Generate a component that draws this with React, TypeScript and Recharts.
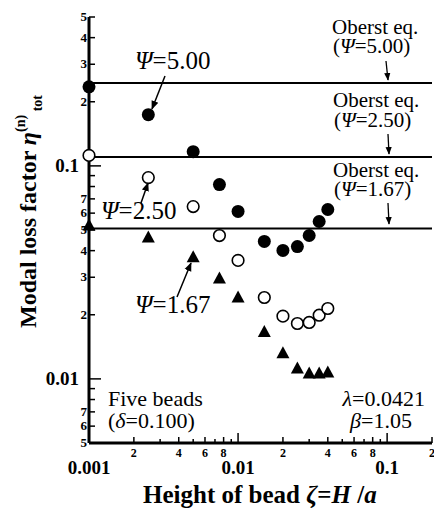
import * as React from "react"
import { ScatterChart, Scatter, XAxis, YAxis, ReferenceLine, Customized } from "recharts"

// bead height zeta = H/a
const zeta = [0.001, 0.0025, 0.005, 0.0075, 0.01, 0.015, 0.02, 0.025, 0.03, 0.035, 0.04]
// modal loss factor for the three psi values
const psi500 = [0.235, 0.174, 0.1166, 0.0817, 0.0611, 0.0442, 0.0401, 0.0418, 0.0471, 0.0548, 0.0624]
const psi250 = [0.112, 0.0881, 0.0644, 0.0471, 0.036, 0.0241, 0.0197, 0.0182, 0.0184, 0.0199, 0.0214]
const psi167 = [0.0525, 0.0461, 0.0372, 0.0296, 0.0241, 0.0166, 0.0132, 0.0112, 0.0106, 0.0106, 0.0107]
// Oberst equation levels
const oberst = [0.245, 0.11, 0.0508]

const xTicks = [
  0.001, 0.002, 0.003, 0.004, 0.005, 0.006, 0.007, 0.008, 0.009,
  0.01, 0.02, 0.03, 0.04, 0.05, 0.06, 0.07, 0.08, 0.09,
  0.1, 0.2,
]
const yTicks = [
  0.005, 0.006, 0.007, 0.008, 0.009,
  0.01, 0.02, 0.03, 0.04, 0.05, 0.06, 0.07, 0.08, 0.09,
  0.1, 0.2, 0.3, 0.4, 0.5,
]
const xMinorLabels = [2, 4, 6, 8]
const yMinorLabels = [2, 3, 4, 5, 6, 7]

const FONT = "Liberation Serif"

const toRows = (ys: number[]) => zeta.map((x, i) => ({ x, y: ys[i] }))
const data500 = toRows(psi500)
const data250 = toRows(psi250)
const data167 = toRows(psi167)

function decade(v: number) {
  const l = Math.log10(v)
  const d = Math.floor(l + 1e-9)
  const mant = Math.round(v / Math.pow(10, d))
  return { d, mant, major: mant === 1 }
}

function fmtMajor(v: number) {
  if (v >= 0.1) return "0.1"
  if (v >= 0.01) return "0.01"
  return "0.001"
}

const BottomTick = (props: any) => {
  const { x, y, payload } = props
  const { mant, major } = decade(payload.value)
  const len = major ? 10 : mant % 2 === 0 ? 6 : 4
  return (
    <g>
      <line x1={x} y1={y} x2={x} y2={y - len} stroke="#000" strokeWidth={1.5} />
      {!major && xMinorLabels.includes(mant) && (
        <text x={x} y={y + 14} textAnchor="middle" fontFamily={FONT} fontWeight="bold" fontSize={12} fill="#000">
          {mant}
        </text>
      )}
      {major && (
        <text x={x} y={y + 31} textAnchor="middle" fontFamily={FONT} fontWeight="bold" fontSize={19} fill="#000">
          {fmtMajor(payload.value)}
        </text>
      )}
    </g>
  )
}

const LeftTick = (props: any) => {
  const { x, y, payload } = props
  const { mant, major } = decade(payload.value)
  const len = major ? 12 : 6
  return (
    <g>
      <line x1={x} y1={y} x2={x + len} y2={y} stroke="#000" strokeWidth={1.5} />
      {!major && yMinorLabels.includes(mant) ? (
        <text x={x - 2} y={y + 4} textAnchor="end" fontFamily={FONT} fontWeight="bold" fontSize={13} fill="#000">
          {mant}
        </text>
      ) : null}
      {major && (
        <text x={x - 10} y={y + 6} textAnchor="end" fontFamily={FONT} fontWeight="bold" fontSize={19} fill="#000">
          {payload.value >= 0.1 ? "0.1" : "0.01"}
        </text>
      )}
    </g>
  )
}

const TopTick = (props: any) => {
  const { x, y, payload } = props
  const { major } = decade(payload.value)
  const len = major ? 8 : 4
  return <line x1={x} y1={y} x2={x} y2={y + len} stroke="#000" strokeWidth={1.5} />
}

const RightTick = (props: any) => {
  const { x, y, payload } = props
  const { major } = decade(payload.value)
  const len = major ? 8 : 5
  return <line x1={x} y1={y} x2={x - len} y2={y} stroke="#000" strokeWidth={1.5} />
}

const FilledDot = (p: any) => <circle cx={p.cx} cy={p.cy} r={6.5} fill="#000" />
const OpenDot = (p: any) => <circle cx={p.cx} cy={p.cy} r={5.8} fill="#fff" stroke="#000" strokeWidth={1.6} />
const Tri = (p: any) => (
  <polygon
    points={`${p.cx},${p.cy - 7} ${p.cx - 6.5},${p.cy + 5} ${p.cx + 6.5},${p.cy + 5}`}
    fill="#000"
  />
)

const Psi = () => <tspan fontStyle="italic">Ψ</tspan>

const Notes = () => (
  <g fontFamily={FONT} fill="#000">
    <defs>
      <marker id="ah" viewBox="0 0 10 10" refX="9" refY="5" markerWidth="6" markerHeight="6" orient="auto">
        <path d="M0,1 L10,5 L0,9 z" fill="#000" />
      </marker>
    </defs>
    {/* axis titles */}
    <text transform="translate(36,328) rotate(-90)" fontSize={24} fontWeight="bold">
      Modal loss factor <tspan fontStyle="italic">η</tspan>
      <tspan dy={-11} fontSize={14}>(n)</tspan>
      <tspan dy={17} fontSize={14}> tot</tspan>
    </text>
    <text x={143} y={503} fontSize={25} fontWeight="bold">
      Height of bead <tspan fontStyle="italic">ζ</tspan>=<tspan fontStyle="italic">H</tspan> /<tspan fontStyle="italic">a</tspan>
    </text>

    {/* Oberst labels */}
    <text x={332} y={34} fontSize={21}>Oberst eq.</text>
    <text x={333} y={53} fontSize={21}>(<Psi />=5.00)</text>
    <line x1={386} y1={61} x2={388} y2={80} stroke="#000" strokeWidth={1.3} markerEnd="url(#ah)" />
    <text x={333} y={107} fontSize={21}>Oberst eq.</text>
    <text x={334} y={127} fontSize={21}>(<Psi />=2.50)</text>
    <line x1={388} y1={134} x2={389} y2={154} stroke="#000" strokeWidth={1.3} markerEnd="url(#ah)" />
    <text x={333} y={177} fontSize={21}>Oberst eq.</text>
    <text x={334} y={196} fontSize={21}>(<Psi />=1.67)</text>
    <line x1={388} y1={203} x2={389} y2={224} stroke="#000" strokeWidth={1.3} markerEnd="url(#ah)" />

    {/* series labels */}
    <text x={135} y={69} fontSize={25}><Psi />=5.00</text>
    <line x1={165} y1={76} x2={152} y2={109} stroke="#000" strokeWidth={1.5} markerEnd="url(#ah)" />
    <text x={101} y={219} fontSize={25}><Psi />=2.50</text>
    <line x1={141} y1={203} x2={148} y2={183} stroke="#000" strokeWidth={1.5} markerEnd="url(#ah)" />
    <text x={135} y={313} fontSize={25}><Psi />=1.67</text>
    <line x1={177} y1={297} x2={191} y2={263} stroke="#000" strokeWidth={1.5} markerEnd="url(#ah)" />

    <text x={108} y={406} fontSize={22}>Five beads</text>
    <text x={108} y={428} fontSize={22}>(<tspan fontStyle="italic">δ</tspan>=0.100)</text>
    <text x={425} y={406} fontSize={22} textAnchor="end"><tspan fontStyle="italic">λ</tspan>=0.0421</text>
    <text x={412} y={428} fontSize={22} textAnchor="end"><tspan fontStyle="italic">β</tspan>=1.05</text>
  </g>
)

export default function App() {
  return (
    <div style={{ position: "absolute", left: 0, top: 0, width: 434, height: 510, background: "#fff" }}>
      <ScatterChart width={434} height={510} margin={{ top: 17, right: 2, bottom: 0, left: 0 }}>
        <XAxis
          xAxisId={0}
          dataKey="x"
          type="number"
          scale="log"
          domain={[0.001, 0.2]}
          ticks={xTicks}
          interval={0}
          height={67}
          tickSize={0}
          tickMargin={0}
          tickLine={false}
          axisLine={{ stroke: "#000", strokeWidth: 3 }}
          tick={<BottomTick />}
        />
        <XAxis
          xAxisId="top"
          orientation="top"
          type="number"
          scale="log"
          domain={[0.001, 0.2]}
          ticks={xTicks}
          interval={0}
          height={0}
          tickSize={0}
          tickMargin={0}
          tickLine={false}
          axisLine={{ stroke: "#000", strokeWidth: 2 }}
          tick={<TopTick />}
        />
        <YAxis
          yAxisId={0}
          dataKey="y"
          type="number"
          scale="log"
          domain={[0.005, 0.5]}
          ticks={yTicks}
          interval={0}
          width={89}
          tickSize={0}
          tickMargin={0}
          tickLine={false}
          axisLine={{ stroke: "#000", strokeWidth: 3 }}
          tick={<LeftTick />}
        />
        <YAxis
          yAxisId="right"
          orientation="right"
          type="number"
          scale="log"
          domain={[0.005, 0.5]}
          ticks={yTicks}
          interval={0}
          width={0}
          tickSize={0}
          tickMargin={0}
          tickLine={false}
          axisLine={{ stroke: "#000", strokeWidth: 2 }}
          tick={<RightTick />}
        />
        {oberst.map((v) => (
          <ReferenceLine key={v} y={v} stroke="#000" strokeWidth={2} />
        ))}
        <Scatter data={data500} shape={<FilledDot />} isAnimationActive={false} />
        <Scatter data={data250} shape={<OpenDot />} isAnimationActive={false} />
        <Scatter data={data167} shape={<Tri />} isAnimationActive={false} />
        <Customized component={Notes} />
      </ScatterChart>
    </div>
  )
}
